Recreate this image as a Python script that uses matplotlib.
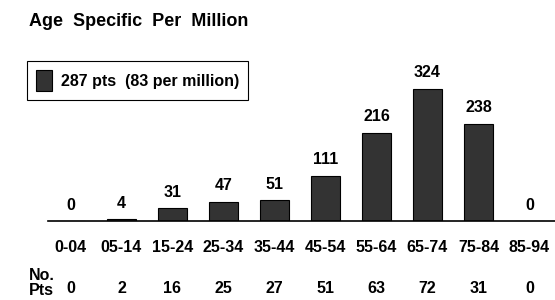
import matplotlib.pyplot as plt
from matplotlib.patches import Patch

# Age bands, rate per million and number of patients
age_bands = ['0-04', '05-14', '15-24', '25-34', '35-44', '45-54',
             '55-64', '65-74', '75-84', '85-94']
per_million = [0, 4, 31, 47, 51, 111, 216, 324, 238, 0]
no_pts = [0, 2, 16, 25, 27, 51, 63, 72, 31, 0]
legend_label = '287 pts  (83 per million)'

plt.rcParams['font.family'] = 'Liberation Sans'
plt.rcParams['font.weight'] = 'bold'
fs = 11.5

fig = plt.figure(figsize=(5.55, 3), dpi=100)
ax = fig.add_axes([0.0, 0.2633, 1.0, 0.5367])

x = list(range(len(age_bands)))
ax.bar(x, per_million, width=0.56, color='#333333', edgecolor='black', linewidth=0.8)

for xi, v in zip(x, per_million):
    ax.annotate(str(v), (xi, v), xytext=(0, 16), textcoords='offset pixels',
                ha='center', va='center', fontsize=fs, fontweight='bold')

ax.set_xlim(-1.382, 9.5)
ax.set_ylim(0, 395)
ax.spines[['top', 'right', 'left']].set_visible(False)
ax.spines['bottom'].set_bounds(-0.44, 9.5)
ax.spines['bottom'].set_linewidth(1.2)
ax.set_yticks([])
ax.set_xticks(x)
ax.set_xticklabels(age_bands, fontsize=fs, fontweight='bold')
ax.tick_params(axis='x', length=0, pad=14)

# number of patients row under the axis
for xi, n in zip(x, no_pts):
    ax.annotate(str(n), (xi, 0), xytext=(0, -67),
                textcoords='offset pixels', ha='center', va='center',
                fontsize=fs, fontweight='bold')
fig.text(29 / 555, 1 - 283 / 300, 'No.\nPts', ha='left', va='center',
         fontsize=fs, fontweight='bold', linespacing=0.95)

fig.text(29 / 555, 1 - 21 / 300, 'Age  Specific  Per  Million', ha='left', va='center',
         fontsize=13, fontweight='bold')

handle = Patch(facecolor='#333333', edgecolor='black', linewidth=0.8)
leg = ax.legend([handle], [legend_label], loc='upper left',
                bbox_to_anchor=(27 / 555, 1 - 61 / 300), bbox_transform=fig.transFigure,
                fancybox=False, edgecolor='black', framealpha=1, borderaxespad=0,
                handlelength=1.0, handleheight=1.7, handletextpad=0.6,
                fontsize=11.5, borderpad=0.55)
leg.get_frame().set_linewidth(0.8)

fig.savefig('out.png', dpi=100)
